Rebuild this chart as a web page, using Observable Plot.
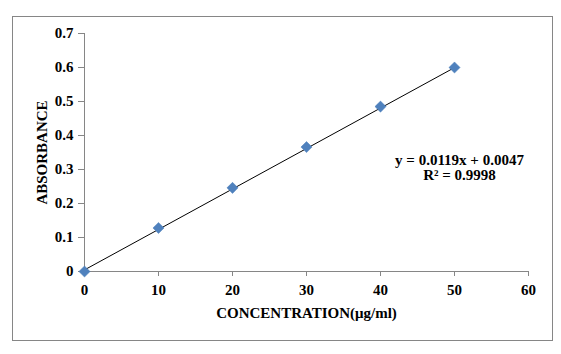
<!DOCTYPE html>
<html>
<head>
<meta charset="utf-8">
<script src="https://cdn.jsdelivr.net/npm/d3@7"></script>
<script src="https://cdn.jsdelivr.net/npm/@observablehq/plot@0.6"></script>
<style>
  html, body { margin: 0; padding: 0; background: #fff; }
  #wrap { position: relative; width: 561px; height: 354px; }
  #border { position: absolute; left: 12px; top: 16px; width: 539px; height: 323px; border: 1px solid #868686; pointer-events: none; }
</style>
</head>
<body>
<div id="wrap"><div id="border"></div></div>
<script>
const concentration = [0, 10, 20, 30, 40, 50];
const absorbance = [0, 0.128, 0.246, 0.366, 0.485, 0.600];
const xTicks = [0, 10, 20, 30, 40, 50, 60];
const yTicks = [0, 0.1, 0.2, 0.3, 0.4, 0.5, 0.6, 0.7];
const slope = 0.0119;
const intercept = 0.0047;
const equationLines = ["y = 0.0119x + 0.0047", "R² = 0.9998"];

const points = concentration.map((c, i) => ({x: c, y: absorbance[i]}));
const fit = [concentration[0], concentration[concentration.length - 1]].map(c => ({x: c, y: slope * c + intercept}));

const font = "'Liberation Serif', 'Times New Roman', serif";
const axisColor = "#868686";

const chart = Plot.plot({
  width: 561,
  height: 354,
  marginLeft: 84,
  marginRight: 33,
  marginTop: 33,
  marginBottom: 83,
  style: {fontFamily: font, fontSize: "15px", fontWeight: "bold", color: "#000", background: "transparent", overflow: "visible"},
  x: {domain: [0, 60], ticks: xTicks},
  y: {domain: [0, 0.7], ticks: yTicks},
  marks: [
    Plot.axisX({ticks: xTicks, tickSize: 5, tickPadding: 8, stroke: axisColor, fill: "#000", fontSize: 15, tickFormat: d => d3.format("d")(d), label: null}),
    Plot.axisY({ticks: yTicks, tickSize: 6, tickPadding: 5, stroke: axisColor, fill: "#000", fontSize: 15, tickFormat: d => d === 0 ? "0" : d3.format(".1f")(d), label: null}),
    Plot.ruleY([0], {stroke: axisColor}),
    Plot.ruleX([0], {stroke: axisColor}),
    Plot.line(fit, {x: "x", y: "y", stroke: "#000", strokeWidth: 1}),
    Plot.dot(points, {x: "x", y: "y", symbol: "diamond2", r: 5, fill: "#4F81BD", stroke: "#4A7EBB", strokeWidth: 0.5}),
    Plot.text([equationLines.join("\n")], {frameAnchor: "right", dx: -69, dy: 15, textAnchor: "middle", lineHeight: 1.0, fontSize: 15, fontWeight: "bold", fill: "#000"}),
    Plot.text(["CONCENTRATION(μg/ml)"], {frameAnchor: "bottom", dy: 46, fontSize: 15, fontWeight: "bold", fill: "#000"}),
    Plot.text(["ABSORBANCE"], {frameAnchor: "left", dx: -42, dy: 0, rotate: -90, textAnchor: "middle", fontSize: 15, fontWeight: "bold", fill: "#000"})
  ]
});
document.getElementById("wrap").appendChild(chart);
chart.style.position = "absolute";
chart.style.left = "0";
chart.style.top = "0";
</script>
</body>
</html>
